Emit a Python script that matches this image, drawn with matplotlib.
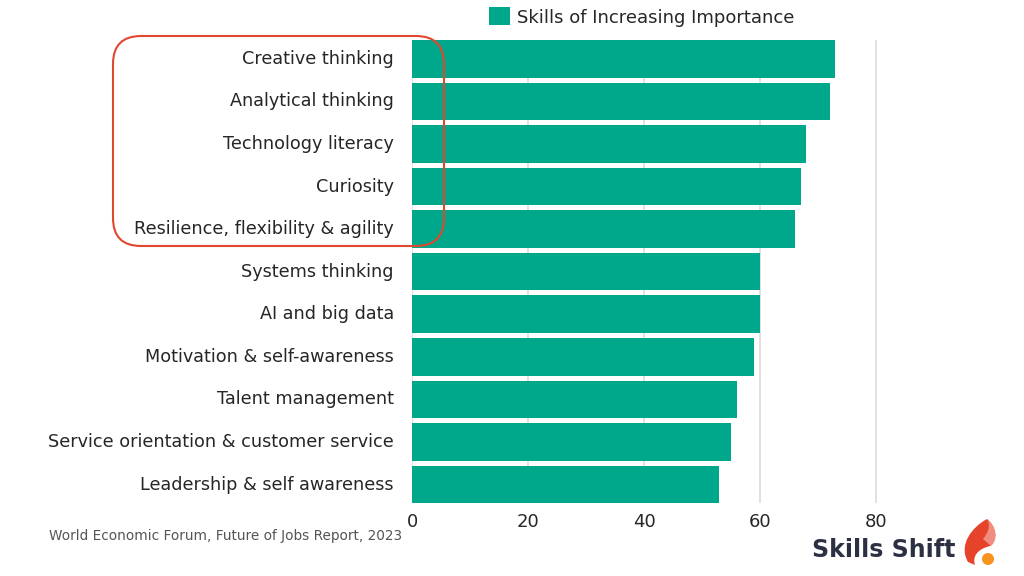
import matplotlib.pyplot as plt
import matplotlib.transforms as mtransforms
from matplotlib.patches import FancyBboxPatch, PathPatch, Circle
from matplotlib.path import Path

plt.rcParams['font.family'] = ['DejaVu Sans']

# data
skills = ['Creative thinking', 'Analytical thinking', 'Technology literacy', 'Curiosity',
          'Resilience, flexibility & agility', 'Systems thinking', 'AI and big data',
          'Motivation & self-awareness', 'Talent management',
          'Service orientation & customer service', 'Leadership & self awareness']
values = [73, 72, 68, 67, 66, 60, 60, 59, 56, 55, 53]
x_ticks = [0, 20, 40, 60, 80]

green = '#00a88b'
text_col = '#262626'

fig = plt.figure(figsize=(10.24, 5.76), dpi=100)
xmax = 80.6
ax = fig.add_axes([412 / 1024, 1 - 503.3 / 576, (876 - 412) * xmax / 80 / 1024, (503.3 - 40) / 576])

ypos = list(range(len(skills)))
bars = ax.barh(ypos, values, height=0.883, color=green, zorder=2)
ax.set_xlim(0, xmax)
ax.set_ylim(len(skills) - 1 + 0.4415, -0.4415)
ax.set_yticks(ypos)
ax.set_yticklabels(skills, fontsize=12.7, color=text_col)
ax.set_xticks(x_ticks)
ax.set_xticklabels([str(t) for t in x_ticks], fontsize=13, color=text_col)
ax.tick_params(axis='y', length=0, pad=13)
ax.tick_params(axis='x', length=0, pad=7)
ax.grid(axis='x', color='#dcdcdc', linewidth=1.2, zorder=0)
ax.set_axisbelow(True)
for s in ax.spines.values():
    s.set_visible(False)
# labels sit a touch above the bar centre in the original
shift = mtransforms.ScaledTranslation(0, 2 / 100, fig.dpi_scale_trans)
for lbl in ax.get_yticklabels():
    lbl.set_transform(lbl.get_transform() + shift)

# legend at top
fig.legend(handles=[bars], labels=['Skills of Increasing Importance'],
           loc='center', bbox_to_anchor=(642 / 1024, 1 - 17 / 576), frameon=False,
           fontsize=13, labelcolor=text_col, handlelength=1.15, handleheight=1.15,
           handletextpad=0.4, borderaxespad=0)

# overlay in pixel units for the box and logo
ov = fig.add_axes([0, 0, 1, 1], zorder=5)
ov.set_xlim(0, 1024)
ov.set_ylim(576, 0)
ov.axis('off')

# red rounded box around the top five
ov.add_patch(FancyBboxPatch((113, 36), 444 - 113, 246 - 36,
                            boxstyle='round,pad=0,rounding_size=28',
                            fill=False, edgecolor='#e2472f', linewidth=1.5))

# source note
ov.text(402, 536, 'World Economic Forum, Future of Jobs Report, 2023',
        ha='right', va='center', fontsize=9.8, color='#555555')

# logo
ov.text(955, 550, 'Skills Shift', ha='right', va='center',
        fontsize=17, fontweight='bold', color='#2b3042')
flame = [(987, 519), (972, 527), (958, 545), (968, 562),
         (975, 565),
         (972, 556), (978, 549), (990, 546),
         (998, 540), (997, 527), (987, 519)]
fcodes = [Path.MOVETO, Path.CURVE4, Path.CURVE4, Path.CURVE4,
          Path.LINETO,
          Path.CURVE4, Path.CURVE4, Path.CURVE4,
          Path.CURVE4, Path.CURVE4, Path.CURVE4]
ov.add_patch(PathPatch(Path(flame, fcodes), facecolor='#e5432a', edgecolor='none'))
hl = [(987, 519), (997, 527), (998, 540), (991, 546),
      (983, 539),
      (988, 533), (991, 526), (987, 519)]
hcodes = [Path.MOVETO, Path.CURVE4, Path.CURVE4, Path.CURVE4,
          Path.LINETO,
          Path.CURVE4, Path.CURVE4, Path.CURVE4]
ov.add_patch(PathPatch(Path(hl, hcodes), facecolor='#f08c80', edgecolor='none'))
ov.add_patch(Circle((988, 559), 6, facecolor='#f7931e', edgecolor='none'))

fig.savefig('out.png', dpi=100)
